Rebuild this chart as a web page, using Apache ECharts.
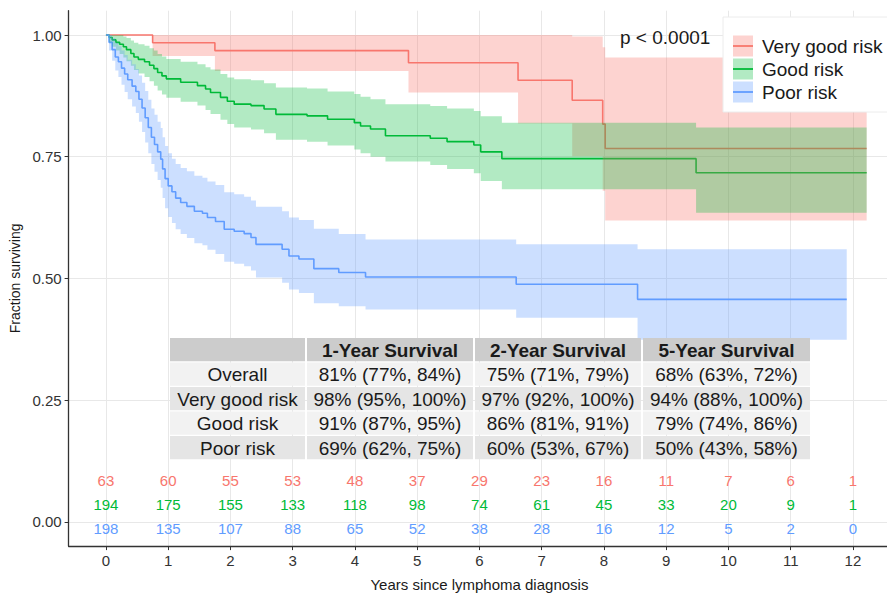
<!DOCTYPE html>
<html>
<head>
<meta charset="utf-8">
<style>
html, body { margin: 0; padding: 0; background: #fff; }
#chart { width: 887px; height: 596px; }
</style>
<script src="https://cdn.jsdelivr.net/npm/echarts@6/dist/echarts.min.js"></script>
</head>
<body>
<div id="chart"></div>
<script>
var groups = ['Very good risk', 'Good risk', 'Poor risk'];
var lineColors = ['#F8766D', '#00BA38', '#619CFF'];
var bandColors = ['rgba(248,118,109,0.32)', 'rgba(0,186,56,0.3)', 'rgba(97,156,255,0.32)'];

// Kaplan-Meier steps: time (years), survival, lower / upper 95% CI
var vgTime  = [0, 0.75, 1.75, 4.86, 6.62, 7.49, 7.98, 8.02];
var vgSurv  = [1, 0.984, 0.968, 0.943, 0.907, 0.866, 0.817, 0.767];
var vgLower = [1, 0.957, 0.926, 0.882, 0.818, 0.751, 0.680, 0.619];
var vgUpper = [1, 1, 1, 1, 1, 0.997, 0.975, 0.954];
var vgEnd = 12.22;

var goodTime  = [0, 0.05, 0.10, 0.16, 0.22, 0.28, 0.33, 0.40, 0.45, 0.52, 0.62, 0.70, 0.77, 0.83, 0.90, 0.97,
                 1.20, 1.47, 1.60, 1.68, 1.84, 1.95, 2.06, 2.33, 2.54, 2.73, 3.23, 3.56, 3.99, 4.09, 4.25, 4.49,
                 5.21, 5.48, 5.91, 6.02, 6.36, 9.48];
var goodSurv  = [1, 0.995, 0.990, 0.985, 0.981, 0.976, 0.970, 0.962, 0.955, 0.950, 0.945, 0.938, 0.931, 0.923, 0.916, 0.910,
                 0.903, 0.896, 0.889, 0.882, 0.872, 0.864, 0.858, 0.855, 0.848, 0.837, 0.834, 0.827, 0.820, 0.813, 0.807, 0.793,
                 0.788, 0.781, 0.774, 0.760, 0.746, 0.717];
var goodLower = [1, 0.985, 0.976, 0.968, 0.961, 0.954, 0.946, 0.937, 0.928, 0.921, 0.914, 0.905, 0.896, 0.886, 0.878, 0.871,
                 0.863, 0.855, 0.846, 0.838, 0.826, 0.817, 0.810, 0.806, 0.798, 0.785, 0.781, 0.773, 0.765, 0.757, 0.750, 0.740,
                 0.733, 0.725, 0.716, 0.700, 0.683, 0.635];
var goodUpper = [1, 1, 1, 1, 1, 0.997, 0.994, 0.989, 0.984, 0.981, 0.978, 0.973, 0.968, 0.961, 0.956, 0.951,
                 0.945, 0.940, 0.934, 0.929, 0.920, 0.913, 0.909, 0.907, 0.901, 0.892, 0.890, 0.884, 0.879, 0.873, 0.868, 0.858,
                 0.854, 0.849, 0.844, 0.833, 0.820, 0.810];
var goodEnd = 12.22;

var poorTime  = [0, 0.05, 0.10, 0.15, 0.20, 0.25, 0.30, 0.35, 0.42, 0.48, 0.53, 0.58, 0.63, 0.68, 0.73, 0.78, 0.83, 0.88,
                 0.91, 0.95, 1.00, 1.06, 1.12, 1.20, 1.30, 1.42, 1.55, 1.63, 1.76, 1.90, 2.06, 2.22, 2.33, 2.41,
                 2.83, 2.94, 3.10, 3.34, 3.74, 4.17, 6.59, 8.54];
var poorSurv  = [1, 0.985, 0.970, 0.955, 0.945, 0.932, 0.920, 0.908, 0.895, 0.884, 0.868, 0.850, 0.830, 0.810, 0.790, 0.775, 0.760, 0.745,
                 0.725, 0.705, 0.690, 0.678, 0.665, 0.656, 0.648, 0.638, 0.634, 0.625, 0.617, 0.601, 0.597, 0.592, 0.584, 0.570,
                 0.560, 0.546, 0.540, 0.520, 0.512, 0.503, 0.488, 0.457];
var poorLower = [1, 0.968, 0.947, 0.927, 0.914, 0.898, 0.883, 0.868, 0.853, 0.840, 0.822, 0.801, 0.779, 0.757, 0.735, 0.719, 0.702, 0.686,
                 0.665, 0.644, 0.626, 0.614, 0.601, 0.591, 0.583, 0.572, 0.568, 0.559, 0.550, 0.534, 0.530, 0.525, 0.516, 0.502,
                 0.491, 0.477, 0.470, 0.449, 0.443, 0.436, 0.419, 0.374];
var poorUpper = [1, 1, 0.994, 0.984, 0.977, 0.968, 0.959, 0.949, 0.940, 0.930, 0.917, 0.902, 0.885, 0.867, 0.849, 0.836, 0.822, 0.809,
                 0.790, 0.772, 0.757, 0.746, 0.735, 0.727, 0.720, 0.711, 0.707, 0.699, 0.692, 0.677, 0.673, 0.668, 0.660, 0.647,
                 0.638, 0.625, 0.620, 0.602, 0.591, 0.580, 0.570, 0.560];
var poorEnd = 11.9;

// number at risk
var riskYears = [0, 1, 2, 3, 4, 5, 6, 7, 8, 9, 10, 11, 12];
var riskVeryGood = [63, 60, 55, 53, 48, 37, 29, 23, 16, 11, 7, 6, 1];
var riskGood = [194, 175, 155, 133, 118, 98, 74, 61, 45, 33, 20, 9, 1];
var riskPoor = [198, 135, 107, 88, 65, 52, 38, 28, 16, 12, 5, 2, 0];

// summary table
var tableHeader = ['', '1-Year Survival', '2-Year Survival', '5-Year Survival'];
var tableRows = [
    ['Overall', '81% (77%, 84%)', '75% (71%, 79%)', '68% (63%, 72%)'],
    ['Very good risk', '98% (95%, 100%)', '97% (92%, 100%)', '94% (88%, 100%)'],
    ['Good risk', '91% (87%, 95%)', '86% (81%, 91%)', '79% (74%, 86%)'],
    ['Poor risk', '69% (62%, 75%)', '60% (53%, 67%)', '50% (43%, 58%)']
];
var yTicks = [0, 0.25, 0.5, 0.75, 1];
var pText = 'p < 0.0001';

var FONT = '"Liberation Sans", Arial, sans-serif';

var curves = [
    {t: vgTime, s: vgSurv, lo: vgLower, hi: vgUpper, end: vgEnd},
    {t: goodTime, s: goodSurv, lo: goodLower, hi: goodUpper, end: goodEnd},
    {t: poorTime, s: poorSurv, lo: poorLower, hi: poorUpper, end: poorEnd}
];
var riskCounts = [riskVeryGood, riskGood, riskPoor];
var riskRowY = [0.085, 0.036, -0.013];

function bandRenderer(color) {
    return function (params, api) {
        if (params.dataIndexInside !== 0) return;
        var n = params.dataInsideLength;
        var top = [], bot = [];
        for (var i = 0; i < n - 1; i++) {
            var t0 = api.value(0, i), t1 = api.value(0, i + 1);
            var lo = api.value(1, i), hi = api.value(2, i);
            top.push(api.coord([t0, hi]), api.coord([t1, hi]));
            bot.push(api.coord([t0, lo]), api.coord([t1, lo]));
        }
        bot.reverse();
        return {type: 'polygon', shape: {points: top.concat(bot)}, style: {fill: color}};
    };
}

var series = [];
// lines first, ribbons drawn over them (as in the original)
curves.forEach(function (c, g) {
    var pts = c.t.map(function (t, i) { return [t, c.s[i]]; });
    pts.push([c.end, c.s[c.s.length - 1]]);
    series.push({
        name: groups[g], type: 'line', step: 'end', data: pts, symbol: 'none',
        lineStyle: {color: lineColors[g], width: 1.6}, itemStyle: {color: lineColors[g]}, z: 2
    });
});
curves.forEach(function (c, g) {
    var rows = c.t.map(function (t, i) { return [t, c.lo[i], c.hi[i]]; });
    rows.push([c.end, c.lo[c.lo.length - 1], c.hi[c.hi.length - 1]]);
    series.push({
        type: 'custom', data: rows, renderItem: bandRenderer(bandColors[g]),
        encode: {x: 0, y: [1, 2]}, z: 3, silent: true
    });
});
riskCounts.forEach(function (counts, g) {
    series.push({
        type: 'custom', z: 4, silent: true,
        data: riskYears.map(function (y, i) { return [y, counts[i]]; }),
        renderItem: function (params, api) {
            var p = api.coord([api.value(0), riskRowY[g]]);
            return {type: 'text', x: p[0], y: p[1],
                style: {text: String(api.value(1)), fill: lineColors[g], font: '15px ' + FONT,
                        align: 'center', verticalAlign: 'middle'}};
        }
    });
});

// table + legend as graphic elements
var graphics = [];
var colX = [170, 307, 475, 643];
var colW = [135, 166, 166, 167];
var rowY0 = 338, rowH = 23.3, rowPitch = 24.5;
var fills = ['#CCCCCC', '#F2F2F2', '#E5E5E5', '#F2F2F2', '#E5E5E5'];
[tableHeader].concat(tableRows).forEach(function (row, r) {
    row.forEach(function (txt, c) {
        var y = rowY0 + r * rowPitch;
        graphics.push({type: 'rect', z: 100, shape: {x: colX[c], y: y, width: colW[c], height: rowH},
            style: {fill: fills[r]}});
        if (txt) {
            graphics.push({type: 'text', z: 101, x: colX[c] + colW[c] / 2, y: y + rowH / 2 + 0.5,
                style: {text: txt, fill: '#1a1a1a', font: (r === 0 ? 'bold ' : '') + '19px ' + FONT,
                        align: 'center', verticalAlign: 'middle'}});
        }
    });
});

graphics.push({type: 'text', z: 101, x: 620, y: 37,
    style: {text: pText, fill: '#1a1a1a', font: '19px ' + FONT, align: 'left', verticalAlign: 'middle'}});

graphics.push({type: 'rect', z: 100, shape: {x: 723, y: 17, width: 170, height: 95},
    style: {fill: '#fff', stroke: '#ececec', lineWidth: 1}});
groups.forEach(function (name, g) {
    var cy = 46 + g * 23;
    graphics.push({type: 'rect', z: 101, shape: {x: 733, y: cy - 10.5, width: 20, height: 21},
        style: {fill: bandColors[g]}});
    graphics.push({type: 'line', z: 102, shape: {x1: 733, y1: cy, x2: 753, y2: cy},
        style: {stroke: lineColors[g], lineWidth: 1.8}});
    graphics.push({type: 'text', z: 102, x: 762, y: cy,
        style: {text: name, fill: '#1a1a1a', font: '19px ' + FONT, align: 'left', verticalAlign: 'middle'}});
});

var chart = echarts.init(document.getElementById('chart'), null, {renderer: 'svg'});
chart.setOption({
    animation: false,
    backgroundColor: '#fff',
    grid: {left: 68.6, top: 10.7, width: 821.7, height: 535.4, outerBoundsMode: 'none', containLabel: false},
    xAxis: {
        type: 'value', min: -0.6, max: 12.6,
        name: 'Years since lymphoma diagnosis', nameLocation: 'middle', nameGap: 31,
        nameTextStyle: {fontSize: 15, color: '#1a1a1a', fontFamily: FONT},
        axisLine: {onZero: false, lineStyle: {color: '#333', width: 1.3}},
        axisTick: {customValues: riskYears, length: 4, lineStyle: {color: '#333'}},
        axisLabel: {customValues: riskYears, fontSize: 15, color: '#333', margin: 7, fontFamily: FONT},
        splitLine: {show: true, lineStyle: {color: '#E8E8E8', width: 1}}
    },
    yAxis: {
        type: 'value', min: -0.05, max: 1.05,
        name: 'Fraction surviving', nameLocation: 'middle', nameGap: 45, nameRotate: 90,
        nameTextStyle: {fontSize: 14, color: '#1a1a1a', fontFamily: FONT},
        axisLine: {show: true, onZero: false, lineStyle: {color: '#333', width: 1.3}},
        axisTick: {show: true, customValues: yTicks, length: 4, lineStyle: {color: '#333'}},
        axisLabel: {customValues: yTicks, fontSize: 15, color: '#333', margin: 7, fontFamily: FONT,
            formatter: function (v) { return v.toFixed(2); }},
        splitLine: {show: true, lineStyle: {color: '#E8E8E8', width: 1}}
    },
    series: series,
    graphic: graphics
});
</script>
</body>
</html>
